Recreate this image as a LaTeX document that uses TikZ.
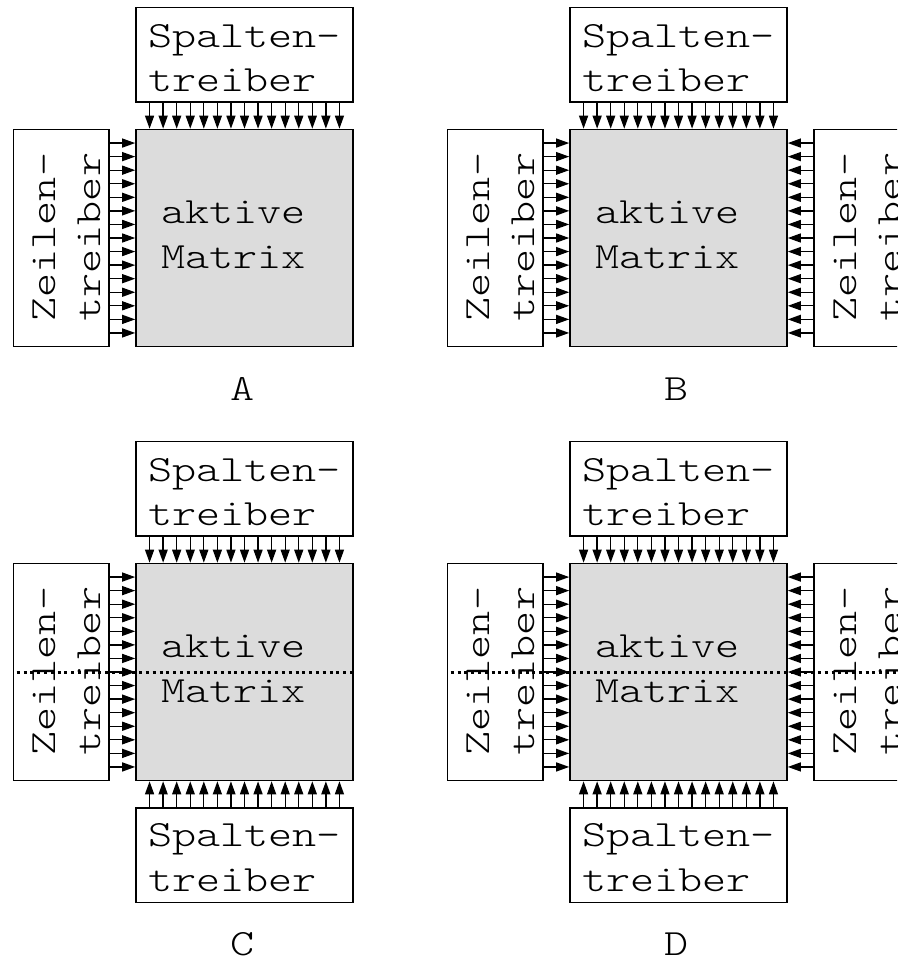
\documentclass[tikz,border=0pt]{standalone}
\usepackage{fontspec}
\newfontfamily\monof[FakeStretch=1.24]{lmmonolt10-regular.otf}
\usetikzlibrary{arrows.meta,calc}
\definecolor{mgray}{RGB}{220,220,220}
\tikzset{
  boxline/.style={draw=black, line width=1.5pt, inner sep=0pt, outer sep=0pt},
  matbox/.style={boxline, fill=mgray, minimum width=217pt, minimum height=217pt},
  hdrv/.style={boxline, fill=white, minimum width=217pt, minimum height=94.5pt},
  vdrv/.style={boxline, fill=white, minimum width=95.5pt, minimum height=217pt},
  txt/.style={font=\monof\fontsize{37}{44.5}\selectfont, inner sep=0pt, outer sep=0pt, align=left, anchor=south west},
  lbl/.style={font=\monof\fontsize{37}{44.5}\selectfont, inner sep=0pt, anchor=base},
  sig/.style={line width=1.3pt, -{Triangle[length=13pt,width=9pt]}, shorten >=0.8pt},
  divider/.style={line width=3pt, dash pattern=on 3pt off 3.8pt},
}
% #1 name, #2 ox, #3 oy, #4 label, #5 right driver (1/0), #6 bottom driver + divider (1/0)
\newcommand\drawpanel[6]{%
  \begin{scope}[shift={(#2,#3)}]
    \node[matbox] (#1-mat) at (244.5,238) {};
    \node[hdrv] (#1-top) at (244.5,54.75) {};
    \node[vdrv] (#1-left) at (61.05,238) {};
    \ifnum#5=1 \node[vdrv] (#1-right) at (427.95,238) {};\fi
    \ifnum#6=1 \node[hdrv] (#1-bot) at (244.5,421.25) {};\fi
    \foreach \i in {1,...,15}{
      \draw[sig] ($(#1-top.south west)!\i/16!(#1-top.south east)$) -- ($(#1-mat.north west)!\i/16!(#1-mat.north east)$);
      \draw[sig] ($(#1-left.north east)!\i/16!(#1-left.south east)$) -- ($(#1-mat.north west)!\i/16!(#1-mat.south west)$);
    }
    \ifnum#5=1
      \foreach \i in {1,...,15}{
        \draw[sig] ($(#1-right.north west)!\i/16!(#1-right.south west)$) -- ($(#1-mat.north east)!\i/16!(#1-mat.south east)$);
      }
      \node[txt, rotate=90] (#1-righttxt) at (467.4,321.5) {Zeilen-\\treiber};
    \fi
    \ifnum#6=1
      \foreach \i in {1,...,15}{
        \draw[sig] ($(#1-bot.north west)!\i/16!(#1-bot.north east)$) -- ($(#1-mat.south west)!\i/16!(#1-mat.south east)$);
      }
      \node[txt] (#1-bottxt) at (148,457.5) {Spalten-\\treiber};
    \fi
    \node[txt] (#1-toptxt) at (148,92) {Spalten-\\treiber};
    \node[txt] (#1-mattxt) at (161,268.3) {aktive\\Matrix};
    \node[txt, rotate=90] (#1-lefttxt) at (100.5,321.5) {Zeilen-\\treiber};
    \ifnum#6=1
      \ifnum#5=1
        \draw[divider] ($(#1-left.west)+(3.4,0)$) -- ($(#1-right.east)+(-3.4,0)$);
      \else
        \draw[divider] ($(#1-left.west)+(3.4,0)$) -- (#1-mat.east);
      \fi
      \node[lbl] (#1-lbl) at (243,521) {#4};
    \else
      \node[lbl] (#1-lbl) at (243,400) {#4};
    \fi
  \end{scope}%
}
\begin{document}
\begin{tikzpicture}[x=1pt,y=-1pt]
  \useasboundingbox (0,0) rectangle (897,961);
  \clip (0,0) rectangle (897,961);
  \drawpanel{A}{0}{0}{A}{0}{0}
  \drawpanel{B}{434}{0}{B}{1}{0}
  \drawpanel{C}{0}{434}{C}{0}{1}
  \drawpanel{D}{434}{434}{D}{1}{1}
\end{tikzpicture}
\end{document}
